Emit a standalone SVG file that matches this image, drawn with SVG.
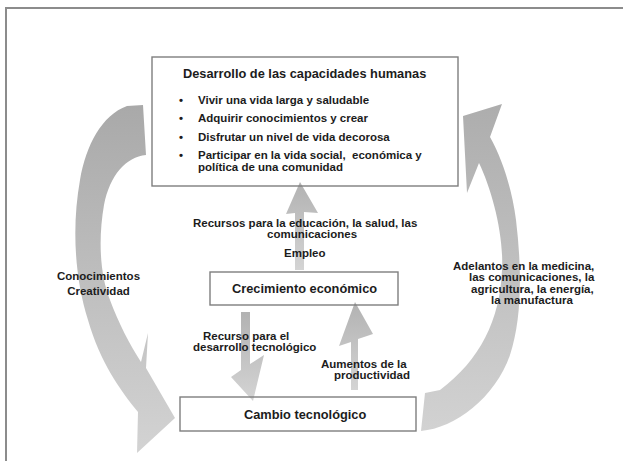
<svg xmlns="http://www.w3.org/2000/svg" width="623" height="461" viewBox="0 0 623 461">
<defs>
<style>
.t{font-family:"Liberation Sans",Arial,Helvetica,sans-serif;font-weight:bold;font-size:11.5px;fill:#1c1c1c}
.h{font-size:12.8px}
.box{fill:none;stroke:#7e7e7e;stroke-width:1.4}
</style>
<linearGradient id="gL" x1="0" y1="0" x2="0" y2="1"><stop offset="0" stop-color="#a9a9a9"/><stop offset="1" stop-color="#d3d3d3"/></linearGradient>
<linearGradient id="gR" x1="0" y1="0" x2="0" y2="1"><stop offset="0" stop-color="#adadad"/><stop offset="1" stop-color="#d2d2d2"/></linearGradient>
<linearGradient id="gC" x1="0" y1="0" x2="0" y2="1"><stop offset="0" stop-color="#b2b2b2"/><stop offset="1" stop-color="#d4d4d4"/></linearGradient>
</defs>
<rect width="623" height="461" fill="#fff"/>
<rect x="6" y="8" width="700" height="600" fill="none" stroke="#8c8c8c" stroke-width="2"/>
<g id="connectors">
<path fill="url(#gL)" d="M143,105 L146,155 C126,157 110,175 104,205 C98,240 100,275 110,300 C118,322 130,345 141,362 L148,333 L146,368 L175,418 L137,453 L138,412 C120,390 100,362 88,320 C74,275 72,225 80,180 C86,145 102,115 127,106 Z"/>
<path fill="url(#gR)" d="M425,393 L421,431 C455,428 495,398 510,355 C522,318 522,270 516,220 C512,190 503,160 490,137 L502,104 L463,116 L467,193 L479,163 C492,190 504,235 502,270 C500,320 480,360 440,390 Z"/>
<path fill="url(#gC)" d="M300,182 L318,213 L304,212 L304,270 L295,270 L295,213 L286,214 Z"/>
<path fill="url(#gC)" d="M241,312 L250,312 L250,364 L264,355 L253,401 L231,377 L241,370 Z"/>
<path fill="url(#gC)" d="M355,302 L373,334 L358,339 L358,390 L351,390 L351,342 L339,346 Z"/>
<text class="t"><tspan x="193" y="226.5">Recursos para la educación, la salud, las</tspan><tspan x="267" y="237.5">comunicaciones</tspan></text>
<text class="t" x="284" y="256.5">Empleo</text>
<text class="t" text-anchor="middle"><tspan x="98.5" y="280">Conocimientos</tspan><tspan x="98.5" y="295">Creatividad</tspan></text>
<text class="t"><tspan x="203" y="340">Recurso para el</tspan><tspan x="193" y="351">desarrollo tecnológico</tspan></text>
<text class="t"><tspan x="321" y="368">Aumentos de la</tspan><tspan x="334" y="379">productividad</tspan></text>
<text class="t"><tspan x="453" y="270">Adelantos en la medicina,</tspan><tspan x="469" y="281">las comunicaciones, la</tspan><tspan x="471" y="292.5">agricultura, la energía,</tspan><tspan x="491" y="303.5">la manufactura</tspan></text>
</g>
<g id="node-desarrollo">
<rect class="box" x="152" y="57" width="306" height="129"/>
<text class="t h" x="183" y="78">Desarrollo de las capacidades humanas</text>
<g class="t">
<text class="t" x="179" y="104">•</text><text class="t" x="198" y="104">Vivir una vida larga y saludable</text>
<text class="t" x="179" y="122">•</text><text class="t" x="198" y="122">Adquirir conocimientos y crear</text>
<text class="t" x="179" y="140.5">•</text><text class="t" x="198" y="140.5">Disfrutar un nivel de vida decorosa</text>
<text class="t" x="179" y="158.5">•</text><text class="t" x="198" y="158.5" style="white-space:pre">Participar en la vida social,  económica y</text>
<text class="t" x="198" y="170.5">política de una comunidad</text>
</g>
</g>
<g id="node-crecimiento">
<rect class="box" x="210" y="272" width="188" height="33"/>
<text class="t h" x="232" y="292.5">Crecimiento económico</text>
</g>
<g id="node-cambio">
<rect class="box" x="180" y="397" width="236" height="34"/>
<text class="t h" x="244" y="418.5">Cambio tecnológico</text>
</g>
</svg>
